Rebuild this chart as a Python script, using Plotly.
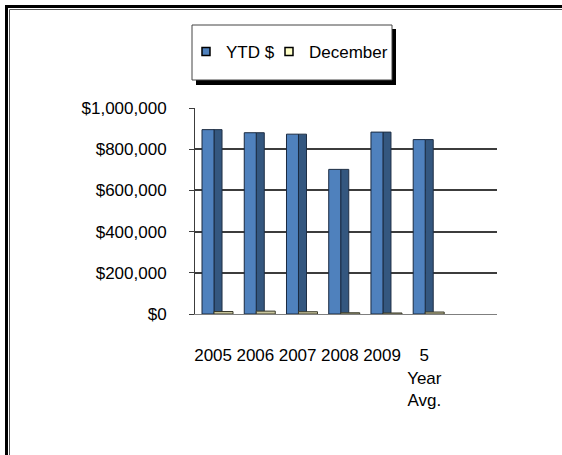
import plotly.graph_objects as go

# ---- data ----
categories = ["2005", "2006", "2007", "2008", "2009", "5<br>Year<br>Avg."]
ytd_values = [895000, 880000, 873000, 702000, 883000, 846600]
december_values = [12000, 14000, 11000, 6000, 5000, 9600]
y_tick_values = [0, 200000, 400000, 600000, 800000, 1000000]
y_tick_labels = ["$0", "$200,000", "$400,000", "$600,000", "$800,000", "$1,000,000"]
series_names = ["YTD $", "December"]

# ---- layout geometry (pixels) ----
W, H = 562, 455
L, R, T, B = 195, 65, 108, 141
PW, PH = W - L - R, H - T - B

def px_x(p):
    return (p - L) / PW

def px_y(p):
    return (H - B - p) / PH

FONT = "Liberation Sans, Arial, sans-serif"

front_col = "#4F81BD"
side_col = "#34577F"
dec_col = "#C9C69E"

fig = go.Figure()

# side face of YTD columns (3D look)
fig.add_trace(go.Bar(
    x=categories, y=ytd_values, offset=-0.05, width=0.19,
    marker=dict(color=side_col, line=dict(color="#1F2F45", width=1)),
    showlegend=False, hoverinfo="skip"))
# front face of YTD columns
fig.add_trace(go.Bar(
    x=categories, y=ytd_values, offset=-0.334, width=0.284, name=series_names[0],
    marker=dict(color=front_col, line=dict(color="#1A2A40", width=1)),
    showlegend=False))
# December slabs
fig.add_trace(go.Bar(
    x=categories, y=december_values, offset=-0.05, width=0.45, name=series_names[1],
    marker=dict(color=dec_col, line=dict(color="#3A3A2A", width=1)),
    showlegend=False))

# legend entries
fig.add_trace(go.Scatter(
    x=[None], y=[None], mode="markers", name=series_names[0], legend="legend",
    marker=dict(symbol="square", size=8, color=front_col, line=dict(color="black", width=1.5))))
fig.add_trace(go.Scatter(
    x=[None], y=[None], mode="markers", name=series_names[1], legend="legend2",
    marker=dict(symbol="square", size=8, color="#FFFFC8", line=dict(color="black", width=1.5))))

shapes = []
# outer double border (top and left)
shapes.append(dict(type="rect", xref="paper", yref="paper",
                   x0=px_x(5), x1=px_x(W + 2), y0=px_y(5), y1=px_y(8),
                   fillcolor="black", line=dict(width=0), layer="below"))
shapes.append(dict(type="rect", xref="paper", yref="paper",
                   x0=px_x(5), x1=px_x(8), y0=px_y(5), y1=px_y(H + 2),
                   fillcolor="black", line=dict(width=0), layer="below"))
shapes.append(dict(type="line", xref="paper", yref="paper",
                   x0=px_x(9.5), x1=px_x(W + 2), y0=px_y(9.5), y1=px_y(9.5),
                   line=dict(color="#555555", width=1), layer="below"))
shapes.append(dict(type="line", xref="paper", yref="paper",
                   x0=px_x(9.5), x1=px_x(9.5), y0=px_y(9.5), y1=px_y(H + 2),
                   line=dict(color="#555555", width=1), layer="below"))
# legend box shadow + box
shapes.append(dict(type="rect", xref="paper", yref="paper",
                   x0=px_x(196), x1=px_x(396), y0=px_y(29), y1=px_y(85),
                   fillcolor="black", line=dict(width=0), layer="below"))
shapes.append(dict(type="rect", xref="paper", yref="paper",
                   x0=px_x(192), x1=px_x(392), y0=px_y(25), y1=px_y(80),
                   fillcolor="white", line=dict(color="#444444", width=1), layer="below"))

legend_common = dict(orientation="h", yanchor="middle", xanchor="left",
                     bgcolor="rgba(0,0,0,0)", borderwidth=0,
                     font=dict(size=17, family=FONT, color="black"), itemclick=False)

fig.update_layout(
    width=W, height=H,
    margin=dict(l=L, r=R, t=T, b=B),
    paper_bgcolor="white", plot_bgcolor="white",
    barmode="overlay",
    font=dict(family=FONT, size=17, color="black"),
    showlegend=True,
    legend=dict(x=px_x(186), y=px_y(52), **legend_common),
    legend2=dict(x=px_x(269), y=px_y(52), **legend_common),
    shapes=shapes,
    xaxis=dict(
        range=[-0.5, 6.65], type="category", showgrid=False, zeroline=False,
        showline=True, linecolor="#7F7F7F", linewidth=1,
        ticks="", tickangle=0, ticklabelstandoff=26, ticklabelshift=-3,
        tickfont=dict(family=FONT, size=17, color="black"),
        fixedrange=True),
    yaxis=dict(
        range=[0, 1000000], tickvals=y_tick_values, ticktext=y_tick_labels,
        showgrid=True, gridcolor="#3C3C3C", gridwidth=1.5,
        zeroline=False, showline=True, linecolor="#3C3C3C", linewidth=1,
        ticks="outside", ticklen=5, tickcolor="#3C3C3C",
        ticklabelstandoff=19,
        tickfont=dict(family=FONT, size=17, color="black"),
        fixedrange=True),
)

fig.write_html("out.html", config={"displayModeBar": False},
               post_script="document.body.style.margin='0px';")
